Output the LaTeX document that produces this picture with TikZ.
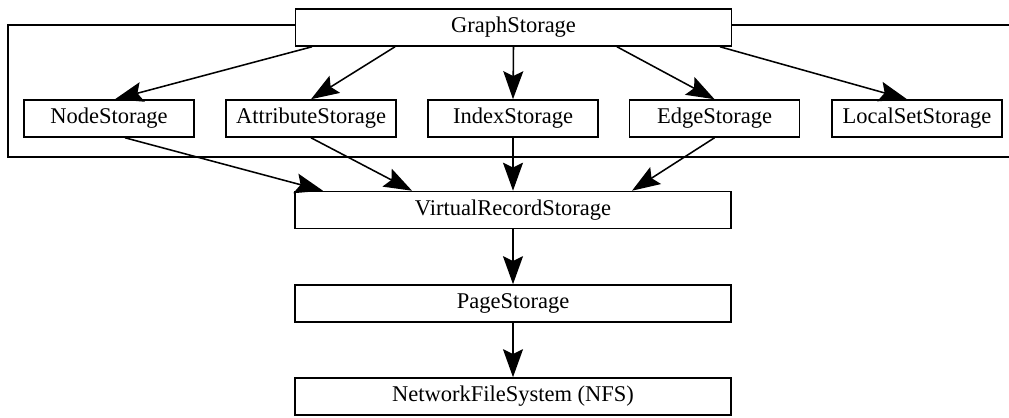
\documentclass[tikz,border=0pt]{standalone}
\usepackage{fontspec}
\setmainfont{Liberation Serif}
\usepackage{tikz}
\usetikzlibrary{arrows.meta,calc}

\begin{document}
\begin{tikzpicture}[x=0.025cm,y=-0.025cm,
  box/.style={draw,line width=1.1pt,fill=white,inner sep=0pt,minimum height=0.925cm,font=\fontsize{16}{19}\selectfont},
  small/.style={box,minimum width=4.25cm},
  wide/.style={box,minimum width=10.9cm},
  edge/.style={line width=1.1pt,-{Stealth[length=0.7cm,width=0.5cm,inset=0.12cm]}}]
\useasboundingbox (0,0) rectangle (1009,418);
% frame round the storage layer
\draw[line width=1.1pt] (1009,25) -- (8,25) -- (8,157) -- (1009,157);
\node[wide] (gs) at (513.5,27.5) {GraphStorage};
\node[small] (ns) at (109,118.5) {NodeStorage};
\node[small] (as) at (311,118.5) {AttributeStorage};
\node[small] (is) at (513,118.5) {IndexStorage};
\node[small] (es) at (714.5,118.5) {EdgeStorage};
\node[small] (ls) at (917,118.5) {LocalSetStorage};
\node[wide] (vrs) at (513,210) {VirtualRecordStorage};
\node[wide] (ps) at (513,303.5) {PageStorage};
\node[wide] (nfs) at (513,396.5) {NetworkFileSystem (NFS)};
% graph storage to its parts
\draw[edge] ($(gs.south)+(-201.5,0)$) -- ($(ns.north)+(6,0)$);
\draw[edge] ($(gs.south)+(-118.5,0)$) -- (as.north);
\draw[edge] (gs.south) -- (is.north);
\draw[edge] ($(gs.south)+(103.5,0)$) -- (es.north);
\draw[edge] ($(gs.south)+(206.5,0)$) -- ($(ls.north)+(-10,0)$);
% parts to the record layer
\draw[edge] ($(ns.south)+(16,0)$) -- ($(vrs.north)+(-190,0)$);
\draw[edge] (as.south) -- ($(vrs.north)+(-101,0)$);
\draw[edge] (is.south) -- (vrs.north);
\draw[edge] (es.south) -- ($(vrs.north)+(119,0)$);
\draw[edge] (vrs.south) -- (ps.north);
\draw[edge] (ps.south) -- (nfs.north);
\end{tikzpicture}
\end{document}
